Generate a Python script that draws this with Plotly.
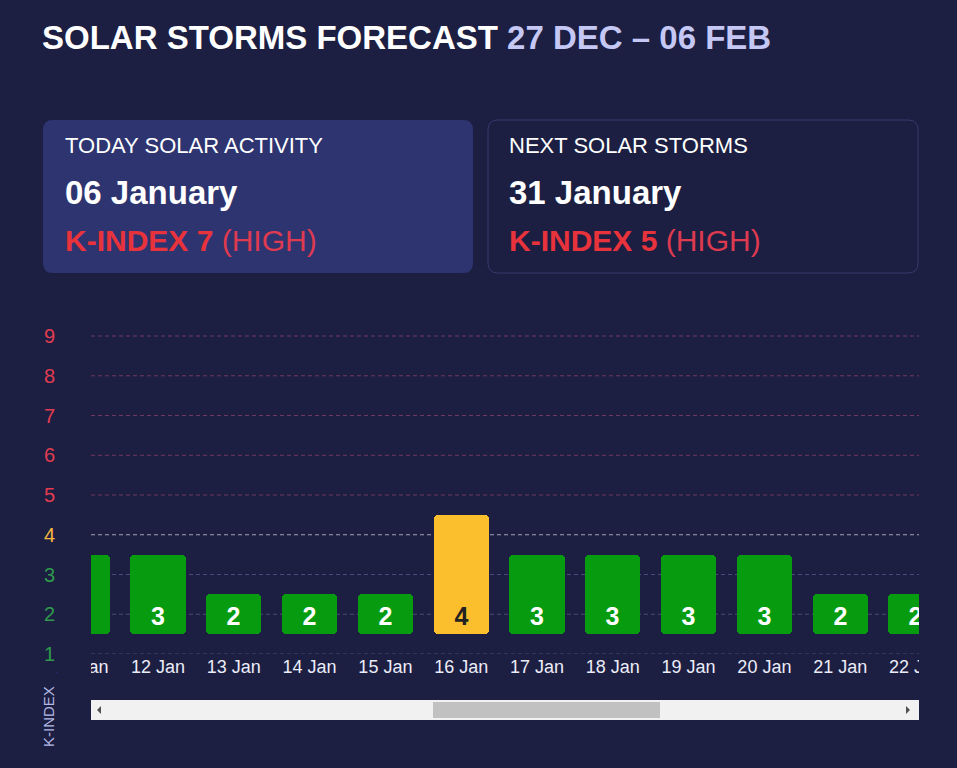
import plotly.graph_objects as go

W, H = 957, 768
BG = "#1c1f42"

days = ["11 Jan", "12 Jan", "13 Jan", "14 Jan", "15 Jan", "16 Jan",
        "17 Jan", "18 Jan", "19 Jan", "20 Jan", "21 Jan", "22 Jan"]
k_index = [3, 3, 2, 2, 2, 4, 3, 3, 3, 3, 2, 2]
k_levels = [1, 2, 3, 4, 5, 6, 7, 8, 9]

today_date = "06 January"
today_k = 7
next_date = "31 January"
next_k = 5


def px(x):
    return x / W


def py(y):
    return 1 - y / H


def bar_color(k):
    if k >= 5:
        return "#e53935"
    if k == 4:
        return "#fbbe2c"
    return "#079c10"


def tick_color(k):
    if k >= 5:
        return "#e23c50"
    if k == 4:
        return "#f4b63f"
    return "#2f9a4b"


def grid_color(k):
    if k >= 5:
        return "#733763"
    if k == 4:
        return "#a0a0b8"
    return "#4a4b7a"


def rounded_rect(x0, y0, x1, y1, r):
    pts = [("M", x0 + r, y0), ("L", x1 - r, y0), ("Q", x1, y0), ("", x1, y0 + r),
           ("L", x1, y1 - r), ("Q", x1, y1), ("", x1 - r, y1),
           ("L", x0 + r, y1), ("Q", x0, y1), ("", x0, y1 - r),
           ("L", x0, y0 + r), ("Q", x0, y0), ("", x0 + r, y0)]
    return " ".join(f"{c}{px(x):.5f},{py(y):.5f}" for c, x, y in pts) + " Z"


fig = go.Figure()

fig.add_trace(go.Bar(
    x=days,
    y=[k - 1 for k in k_index],
    base=1.5,
    width=0.726,
    marker=dict(color=[bar_color(k) for k in k_index], cornerradius=4, line_width=0),
    text=[str(k) for k in k_index],
    textposition="inside",
    insidetextanchor="start",
    constraintext="none",
    textangle=0,
    textfont=dict(family="Liberation Sans", size=25, weight="bold",
                  color=["#222222" if k == 4 else "white" for k in k_index]),
    hoverinfo="skip",
))

shapes = []
# dashed grid lines, coloured by level
for k in k_levels:
    shapes.append(dict(type="line", xref="paper", yref="y", x0=px(91), x1=px(919), y0=k, y1=k,
                       line=dict(color=grid_color(k), width=1, dash="4px,3px"), layer="below"))

# cards
shapes.append(dict(type="path", xref="paper", yref="paper", path=rounded_rect(43, 120, 473, 273, 10),
                   fillcolor="#2e3470", line=dict(width=0), layer="below"))
shapes.append(dict(type="path", xref="paper", yref="paper", path=rounded_rect(488, 120, 918, 273, 10),
                   fillcolor=BG, line=dict(width=1, color="#363b6c"), layer="below"))

# masks that cut the chart at the visible window edges
for x0, x1 in [(57, 91), (919, W)]:
    shapes.append(dict(type="rect", xref="paper", yref="paper", x0=px(x0), x1=px(x1),
                       y0=py(690), y1=py(315), fillcolor=BG, line=dict(width=0), layer="above"))

# scrollbar
shapes.append(dict(type="rect", xref="paper", yref="paper", x0=px(91), x1=px(919), y0=py(720), y1=py(700),
                   fillcolor="#f1f1f1", line=dict(width=0), layer="above"))
shapes.append(dict(type="rect", xref="paper", yref="paper", x0=px(433), x1=px(660), y0=py(718), y1=py(702),
                   fillcolor="#c1c1c1", line=dict(width=0), layer="above"))
shapes.append(dict(type="path", xref="paper", yref="paper",
                   path=f"M{px(101)},{py(706)} L{px(97)},{py(710)} L{px(101)},{py(714)} Z",
                   fillcolor="#505050", line=dict(width=0), layer="above"))
shapes.append(dict(type="path", xref="paper", yref="paper",
                   path=f"M{px(906)},{py(706)} L{px(910)},{py(710)} L{px(906)},{py(714)} Z",
                   fillcolor="#505050", line=dict(width=0), layer="above"))

font = "Liberation Sans, Arial, sans-serif"
red = "#e8333c"

annotations = [
    dict(text="<b>SOLAR STORMS FORECAST <span style='color:#c5c8f5'>27 DEC – 06 FEB</span></b>",
         x=px(40), y=py(38), font=dict(size=33, color="white")),
    dict(text="TODAY SOLAR ACTIVITY", x=px(63), y=py(146), font=dict(size=22, color="white")),
    dict(text=f"<b>{today_date}</b>", x=px(63), y=py(192), font=dict(size=33, color="white")),
    dict(text=f"<b>K-INDEX {today_k}</b> <span style='color:#de3a50'>(HIGH)</span>",
         x=px(63), y=py(241), font=dict(size=30, color=red)),
    dict(text="NEXT SOLAR STORMS", x=px(507), y=py(146), font=dict(size=22, color="white")),
    dict(text=f"<b>{next_date}</b>", x=px(507), y=py(192), font=dict(size=33, color="white")),
    dict(text=f"<b>K-INDEX {next_k}</b> <span style='color:#de3a50'>(HIGH)</span>",
         x=px(507), y=py(241), font=dict(size=30, color=red)),
]
for a in annotations:
    a.update(xref="paper", yref="paper", xanchor="left", yanchor="middle", showarrow=False)
    a["font"]["family"] = font
annotations.append(dict(text="K-INDEX", xref="paper", yref="paper", x=px(48), y=py(717),
                        textangle=-90, showarrow=False, xanchor="center", yanchor="middle",
                        font=dict(family=font, size=15, color="#b4b8e6")))

fig.update_layout(
    width=W, height=H,
    margin=dict(l=0, r=0, t=0, b=0, autoexpand=False),
    autosize=False,
    paper_bgcolor=BG,
    plot_bgcolor=BG,
    font=dict(family=font, color="white"),
    showlegend=False,
    bargap=0,
    shapes=shapes,
    annotations=annotations,
    xaxis=dict(domain=[px(60), px(919)], range=[-0.293, 11.04], type="category",
               showgrid=False, zeroline=False, showline=False, ticks="", automargin=False,
               tickfont=dict(size=18, color="#ececf8"), fixedrange=True),
    yaxis=dict(domain=[py(654), py(320)], range=[1, 9.403],
               tickvals=k_levels,
               ticktext=[f"<span style='color:{tick_color(k)}'>{k}</span>" for k in k_levels],
               showgrid=False, zeroline=False, showline=False, ticks="", automargin=False,
               tickfont=dict(size=20), ticklabelstandoff=4, fixedrange=True),
)

fig.write_html("out.html", config={"displayModeBar": False},
               post_script="document.body.style.margin='0';document.body.style.background='%s';" % BG)
